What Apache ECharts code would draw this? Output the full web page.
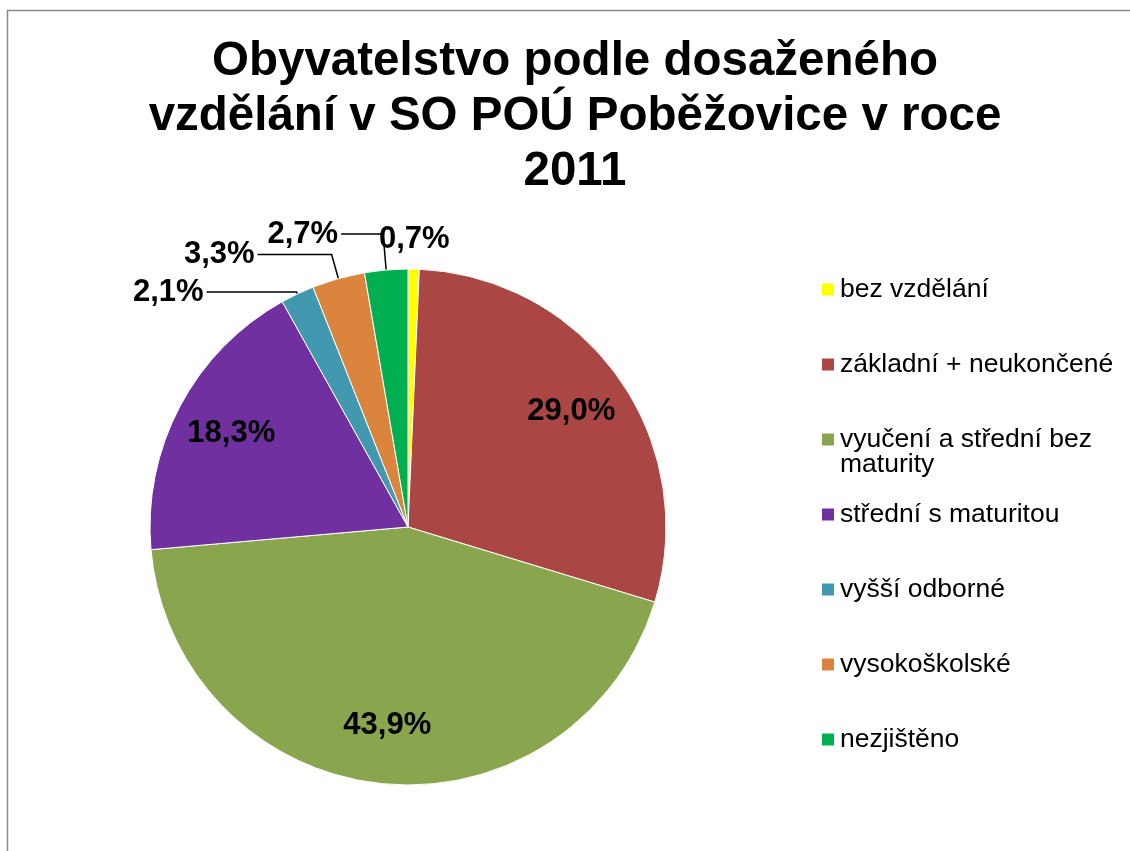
<!DOCTYPE html>
<html>
<head>
<meta charset="utf-8">
<script src="https://cdn.jsdelivr.net/npm/echarts@6/dist/echarts.min.js"></script>
<style>
  html, body { margin: 0; padding: 0; background: #fff; }
  #main { width: 1130px; height: 851px; }
</style>
</head>
<body>
<div id="main"></div>
<script>
// data
var categories = ['bez vzdělání', 'základní + neukončené', 'vyučení a střední bez maturity',
  'střední s maturitou', 'vyšší odborné', 'vysokoškolské', 'nezjištěno'];
var shares = [0.7, 29.0, 43.9, 18.3, 2.1, 3.3, 2.7];
var colors = ['#FFFF00', '#AA4643', '#89A54E', '#7030A0', '#4198AF', '#DB843D', '#00B050'];

var FONT = '"Liberation Sans", Arial, sans-serif';
var CENTER = [408, 527];
var R = 258;

// which label goes where
var insideIdx = [1, 2, 3];
var topIdx = [0];
// leader lines for small slices: [length, length2]
var leader = { 4: [2, 90], 5: [25, 74], 6: [36, 42] };

function pct(p) {
  return p.value.toFixed(1).replace('.', ',') + '%';
}
var labelFont = { fontFamily: FONT, fontSize: 31, fontWeight: 'bold', color: '#000' };

var myChart = echarts.init(document.getElementById('main'));

var mainData = categories.map(function (name, i) {
  var item = { name: name, value: shares[i], itemStyle: { color: colors[i] } };
  if (leader[i]) {
    item.label = { show: true };
    item.labelLine = { show: true, length: leader[i][0], length2: leader[i][1] };
  }
  return item;
});

function overlayData(idxList) {
  return categories.map(function (name, i) {
    return { name: name, value: shares[i], label: { show: idxList.indexOf(i) >= 0 } };
  });
}

var option = {
  backgroundColor: '#fff',
  animation: false,
  title: {
    text: 'Obyvatelstvo podle dosaženého\nvzdělání v SO POÚ Poběžovice v roce\n2011',
    left: 570,
    top: 29,
    textAlign: 'center',
    textStyle: { fontFamily: FONT, fontSize: 47.5, fontWeight: 'bold', color: '#000', lineHeight: 55 }
  },
  legend: {
    orient: 'vertical',
    left: 820,
    top: 251,
    padding: 0,
    itemGap: -2,
    itemWidth: 14,
    itemHeight: 14,
    icon: 'rect',
    selectedMode: false,
    data: categories,
    formatter: function (name) {
      if (name === categories[2]) return '\nvyučení a střední bez\nmaturity';
      return '\n' + name + '\n';
    },
    textStyle: { fontFamily: FONT, fontSize: 26.5, color: '#000', lineHeight: 25 }
  },
  graphic: [{
    type: 'rect',
    shape: { x: 7.5, y: 10.5, width: 1400, height: 1000 },
    style: { fill: 'none', stroke: '#8a8a8a', lineWidth: 1.5 },
    silent: true
  }],
  series: [
    {
      name: 'vzdělání',
      type: 'pie',
      center: CENTER,
      radius: R,
      startAngle: 90,
      avoidLabelOverlap: false,
      itemStyle: { borderColor: '#fff', borderWidth: 1 },
      label: Object.assign({ show: false, position: 'outside', formatter: pct, distanceToLabelLine: 3 }, labelFont),
      labelLine: { show: false, lineStyle: { color: '#000', width: 1.5 } },
      emphasis: { disabled: true },
      data: mainData
    },
    {
      name: 'inside',
      type: 'pie',
      center: CENTER,
      radius: [140, 254],
      startAngle: 90,
      silent: true,
      avoidLabelOverlap: false,
      itemStyle: { color: 'rgba(0,0,0,0)' },
      label: Object.assign({ position: 'inside', formatter: pct }, labelFont),
      labelLine: { show: false },
      emphasis: { disabled: true },
      data: overlayData(insideIdx)
    },
    {
      name: 'top',
      type: 'pie',
      center: CENTER,
      radius: [268, 302],
      startAngle: 90,
      silent: true,
      avoidLabelOverlap: false,
      itemStyle: { color: 'rgba(0,0,0,0)' },
      label: Object.assign({ position: 'inside', formatter: pct }, labelFont),
      labelLine: { show: false },
      emphasis: { disabled: true },
      data: overlayData(topIdx)
    }
  ]
};

myChart.setOption(option);
window.onresize = function () {
  myChart.resize();
};
</script>
</body>
</html>
